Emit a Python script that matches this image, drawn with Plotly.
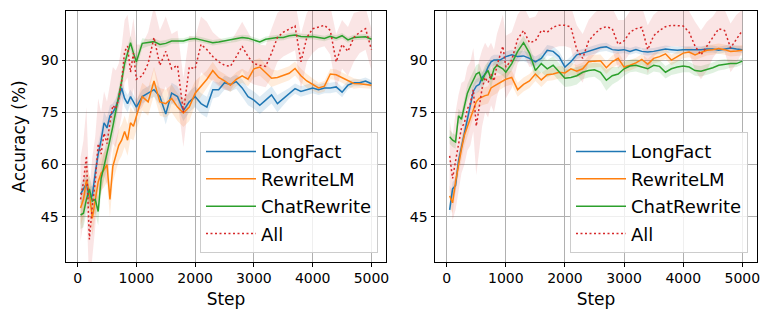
import plotly.graph_objects as go

# ---------------- data ----------------
steps = [50, 100, 150, 200, 250, 300, 350, 400, 450, 500, 550, 600, 650, 700, 750,
         800, 850, 900, 950, 1000, 1100, 1200, 1300, 1400, 1500, 1600, 1700, 1800,
         1900, 2000, 2100, 2200, 2300, 2400, 2500, 2600, 2700, 2800, 2900, 3000,
         3100, 3200, 3300, 3400, 3500, 3600, 3700, 3800, 3900, 4000, 4100, 4200,
         4300, 4400, 4500, 4600, 4700, 4800, 4900, 5000]

series_names = ["LongFact", "RewriteLM", "ChatRewrite", "All"]

# Left panel
left_longfact = [51.5, 53, 54.5, 50.5, 51, 57.5, 63, 67, 72, 70.5, 74, 75, 76.5, 79, 82,
                 79, 77.5, 79.5, 78, 76.5, 79.5, 80.5, 81.5, 79.5, 74.5, 80.5, 79.5, 75.5,
                 78, 79.5, 77.5, 76.5, 81.5, 81.5, 83.5, 83, 83.8, 82, 79.5, 78.5,
                 77, 78.5, 80, 77.5, 79, 80.5, 81.8, 81, 81.5, 82, 81.5, 82,
                 82, 82.3, 80.8, 82.8, 83.5, 83.5, 84, 83.2]
left_rewritelm = [47.5, 50, 55.5, 52, 44.5, 50, 55, 57.5, 58.5, 60, 50, 59.5, 62.5, 65.5, 67,
                  69.5, 67, 72, 71, 74, 79.5, 78, 84, 78, 77.5, 79, 76.5, 74.8,
                  76.5, 80.5, 82.5, 84.5, 87, 85, 84, 82.8, 84.5, 85.5, 84.5, 87.5,
                  88, 86.5, 84.8, 85, 85.5, 86.2, 87.6, 85.5, 84, 83, 82, 82.5,
                  86, 85.8, 85, 84, 83.3, 83.2, 83, 82.8]
left_chatrewrite = [45.5, 46, 50, 53, 49.5, 50, 46.5, 56, 59.5, 63, 67, 71, 75, 79, 84,
                    89, 92, 95, 92, 89.5, 94.8, 95, 95.3, 94.5, 94.8, 95.5, 95.5, 95.5,
                    96, 96.2, 95.8, 95.5, 95, 95.2, 95.5, 95.8, 96, 96.5, 96.3, 95.8,
                    95.2, 96, 96.3, 96.5, 96.5, 97, 97.2, 96.8, 96.7, 96.8, 96.5, 96.2,
                    96.8, 96.3, 97, 95.8, 96.5, 96.5, 96.7, 96]
left_all = [50, 55, 62.5, 38.5, 48, 55, 66, 63, 69, 66, 72, 77, 76, 79, 84,
            92.5, 94, 86.5, 92, 84.5, 85.5, 89, 96.5, 88.5, 92.5, 87.5, 88.5, 75,
            88, 87.5, 94.5, 93, 91, 89.5, 88.5, 88.2, 91, 94, 91, 89,
            88.5, 88.2, 92, 96.5, 98, 99, 99.8, 89.5, 96.5, 99, 99.5, 100,
            98.5, 89.5, 94.5, 92.5, 96.5, 98, 99, 93]

left_longfact_sd = [3, 3, 3, 3, 3, 3, 3, 3, 3, 3, 3, 2.5, 2.5, 2.5, 2.5,
                    2.5, 2.5, 2, 2, 2, 2, 2, 2, 2.5, 3, 3, 3, 3,
                    3, 3, 3, 3, 2.5, 2, 2, 2, 2, 2.5, 2.5, 2.5,
                    2.5, 2.5, 2.5, 2.5, 2, 1.5, 1.5, 1.5, 1.5, 1.5, 1.5, 1.5,
                    1.5, 1.5, 1.5, 1.2, 1, 1, 1, 1]
left_rewritelm_sd = [5, 5, 5, 5, 5, 5, 5, 5, 5, 5, 5, 4.5, 4.5, 4.5, 4.5,
                     4.5, 4.5, 4.5, 4, 4, 4, 4, 4, 4, 4, 4, 4, 4,
                     4, 3.5, 3, 2.5, 2.5, 2, 2, 2, 2, 2, 2, 2.5,
                     2.5, 2.5, 2.5, 2, 2, 2, 2, 2, 2, 1.8, 1.5, 1.5,
                     1.5, 1.5, 1.5, 1.5, 1.5, 1.2, 1, 1]
left_chatrewrite_sd = [4, 4, 4, 4, 4, 4, 4, 4, 4, 4, 4, 3.5, 3, 3, 3,
                       2.5, 2, 2, 2, 2, 1.5, 1, 1, 1, 1, 0.8, 0.8, 0.8,
                       0.8, 0.8, 0.8, 0.8, 0.8, 0.8, 0.8, 0.8, 0.8, 0.8, 0.8, 0.8,
                       0.8, 0.8, 0.8, 0.8, 0.8, 0.8, 0.8, 0.8, 0.8, 0.8, 0.8, 0.8,
                       0.8, 0.8, 0.8, 0.8, 0.8, 0.8, 0.8, 0.8]
left_all_sd = [12, 12, 14, 14, 14, 13, 13, 12, 12, 12, 11, 11, 11, 10, 10,
               9, 9, 10, 10, 10, 9, 9, 9, 10, 10, 10, 10, 10,
               9, 9, 8, 8, 7, 7, 7, 7, 7, 7, 7, 6,
               6, 6, 7, 7, 7, 7, 7, 8, 7, 7, 6, 6,
               7, 8, 7, 7, 7, 6, 6, 6]

# Right panel
right_longfact = [47, 53, 54, 61, 65, 69, 73, 77.5, 81, 82.5, 83, 85, 86, 88, 89.5,
                  90, 90, 90, 90.5, 91, 91.5, 91, 91.2, 90.5, 89.5, 90.5, 92.8, 92.5,
                  91, 88, 89.5, 91.5, 92, 92.5, 93, 93.6, 93.8, 93, 92.8, 93,
                  92.5, 93, 92.5, 92.3, 92.5, 92.8, 93.2, 93, 92.8, 93, 93, 92.8,
                  93, 93.2, 93.2, 92.8, 93.2, 93.5, 93.2, 93]
right_rewritelm = [51, 49, 55, 60, 64.5, 68.5, 71, 73.5, 76, 78, 79, 79.5, 79.8, 80, 82,
                   82.5, 83, 83.5, 84, 84.5, 85, 81.5, 83, 84, 86, 84.3, 85.8, 86,
                   86.5, 86.3, 87.5, 86.8, 87.5, 89.5, 89.7, 89.8, 87.8, 89.5, 90.5, 88,
                   88.5, 89.2, 90.2, 88.8, 90.5, 91, 91.8, 90, 91, 92, 92.3, 91.5,
                   92.2, 92.8, 93, 93.3, 93, 92.5, 92.6, 92.8]
right_chatrewrite = [68, 67, 66.5, 74, 73, 77, 80.5, 82.5, 84.5, 86, 86.5, 84, 86, 87, 84.5,
                     87.5, 88.5, 88, 87.5, 86.5, 89, 92.5, 95, 92, 87, 89, 87.5, 88.5,
                     86.5, 84.8, 85, 85.5, 86.5, 87, 87.2, 86.5, 84.2, 85.5, 86, 87.5,
                     88.3, 88.5, 88, 87.5, 88.5, 88.2, 86.5, 87.5, 88, 88.3, 88, 87,
                     86.8, 87.2, 87.8, 88.5, 88.8, 89, 89, 89.7]
right_all = [62.5, 56, 61, 66, 70.5, 72, 76, 77.5, 81.5, 71, 77, 82, 85, 83.5, 86,
             84, 88.5, 91, 94, 88, 90, 96, 98.5, 95, 95.5, 98.5, 98, 99.5,
             100, 100, 99.5, 93, 90.5, 95.5, 97.5, 99, 99.6, 99, 94.5, 95.5,
             98, 99, 99.4, 93, 97, 98.5, 99.6, 100, 100, 99.8, 98, 94,
             91.5, 94, 96.5, 99, 98.5, 93.5, 96, 98.5]

right_longfact_sd = [2, 2, 2, 2, 2, 2, 2, 2, 2, 2, 2, 1.5, 1.5, 1.5, 1.5,
                     1.5, 1.5, 1.5, 1.5, 1.5, 1.5, 1.5, 1.5, 1.5, 1.5, 1.5, 1.5, 1.5,
                     1.5, 1.5, 1.5, 1.2, 1.2, 1.2, 1.2, 1.2, 1.2, 1, 1, 1,
                     1, 1, 1, 1, 1, 1, 1, 1, 1, 1, 1, 1,
                     1, 1, 1, 1, 1, 1, 1, 1]
right_rewritelm_sd = [3, 3, 3, 3, 3, 3, 3, 3, 2.5, 2.5, 2.5, 2.5, 2.5, 2.5, 2.5,
                      2.5, 2.5, 2, 2, 2, 2, 2, 2, 2, 2, 2, 1.8, 1.8,
                      1.8, 1.8, 1.8, 1.8, 1.8, 1.8, 1.8, 1.8, 1.8, 1.8, 1.8, 1.5,
                      1.5, 1.5, 1.5, 1.5, 1.5, 1.5, 1.5, 1.5, 1.5, 1.5, 1.5, 1.5,
                      1.5, 1.5, 1.5, 1.5, 1.5, 1.5, 1.5, 1.5]
right_chatrewrite_sd = [2, 2, 2, 2, 2, 2.5, 2.5, 2.5, 2.5, 2.5, 2.5, 2.5, 2.5, 2.5, 2.5,
                        2, 2, 2, 2, 2, 2, 2, 2, 2, 2.5, 2.5, 2.5, 2.5,
                        2.5, 2.5, 2.5, 2.5, 2, 2, 2, 2.5, 3, 2.5, 2, 2,
                        1.8, 1.8, 1.8, 1.8, 1.8, 1.8, 1.8, 1.8, 1.8, 1.8, 1.5, 1.5,
                        1.5, 1.5, 1.5, 1.5, 1.5, 1.2, 1, 1]
right_all_sd = [10, 12, 14, 14, 13, 12, 12, 12, 12, 14, 13, 11, 10, 10, 9,
                9, 9, 9, 9, 9, 8, 7, 7, 7, 7, 7, 6, 6,
                6, 6, 6, 7, 7, 6, 6, 6, 6, 6, 7, 6,
                6, 6, 6, 7, 6, 6, 6, 6, 6, 6, 6, 7,
                7, 7, 6, 6, 6, 7, 7, 6]

y_ticks = [45, 60, 75, 90]
x_ticks = [0, 1000, 2000, 3000, 4000, 5000]

# ---------------- styling ----------------
colors = ["#1f77b4", "#ff7f0e", "#2ca02c", "#d62728"]
fills = ["rgba(31,119,180,0.15)", "rgba(255,127,14,0.15)",
         "rgba(44,160,44,0.15)", "rgba(214,39,40,0.12)"]
FONT = "DejaVu Sans"

fig = go.Figure()

panels = [
    ("x", "y", "legend", [left_longfact, left_rewritelm, left_chatrewrite, left_all],
     [left_longfact_sd, left_rewritelm_sd, left_chatrewrite_sd, left_all_sd]),
    ("x2", "y2", "legend2", [right_longfact, right_rewritelm, right_chatrewrite, right_all],
     [right_longfact_sd, right_rewritelm_sd, right_chatrewrite_sd, right_all_sd]),
]

for xa, ya, leg, vals, sds in panels:
    for i, (v, s) in enumerate(zip(vals, sds)):
        upper = [a + b for a, b in zip(v, s)]
        lower = [a - b for a, b in zip(v, s)]
        fig.add_trace(go.Scatter(
            x=steps + steps[::-1], y=upper + lower[::-1],
            fill="toself", fillcolor=fills[i], mode="lines",
            line=dict(width=0), hoverinfo="skip", showlegend=False,
            xaxis=xa, yaxis=ya))
    for i, v in enumerate(vals):
        fig.add_trace(go.Scatter(
            x=steps, y=v, mode="lines", name=series_names[i],
            line=dict(color=colors[i], width=1.5,
                      dash="2px,2.5px" if i == 3 else "solid"),
            legendgroup=f"{leg}_{i}", legend=leg,
            xaxis=xa, yaxis=ya))

# The page body has an 8px default margin, so the figure is sized to fit
# inside the 773x323 window after that offset.
OFF = 8
W, H = 773 - 2 * OFF, 323 - 2 * OFF
L, T = 66 - OFF, 11 - OFF
R = W - (757 - OFF)
B = H - (262 - OFF)
pw = W - L - R

def px_x(p):
    return (p - OFF - L) / pw

axis_common = dict(
    showline=True, mirror=True, linecolor="black", linewidth=1,
    ticks="outside", ticklen=3.5, tickwidth=1, tickcolor="black",
    showgrid=True, gridcolor="#b0b0b0", gridwidth=1, zeroline=False,
    tickfont=dict(family=FONT, size=14, color="black"),
    automargin=False,
)

xaxis_kw = dict(axis_common, range=[-197.5, 5247.5], tickvals=x_ticks,
                title=dict(text="Step", font=dict(family=FONT, size=17, color="black"),
                           standoff=7))
yaxis_kw = dict(axis_common, range=[32, 104.1], tickvals=y_ticks)

legend_common = dict(
    font=dict(family=FONT, size=18, color="black"),
    bgcolor="rgba(255,255,255,0.8)", bordercolor="#cccccc", borderwidth=1,
    tracegroupgap=1, itemwidth=50, xanchor="right", yanchor="bottom", y=0.035,
)

fig.update_layout(
    width=W, height=H,
    margin=dict(l=L, r=R, t=T, b=B, autoexpand=False),
    plot_bgcolor="white", paper_bgcolor="white",
    font=dict(family=FONT, color="black"),
    xaxis=dict(xaxis_kw, domain=[0, px_x(386)], anchor="y"),
    yaxis=dict(yaxis_kw, domain=[0, 1], anchor="x",
               title=dict(text="Accuracy (%)",
                          font=dict(family=FONT, size=17, color="black"),
                          standoff=10)),
    xaxis2=dict(xaxis_kw, domain=[px_x(435), 1], anchor="y2"),
    yaxis2=dict(yaxis_kw, domain=[0, 1], anchor="x2"),
    legend=dict(legend_common, x=px_x(378)),
    legend2=dict(legend_common, x=px_x(748)),
    showlegend=True,
)

fig.write_html("out.html")
